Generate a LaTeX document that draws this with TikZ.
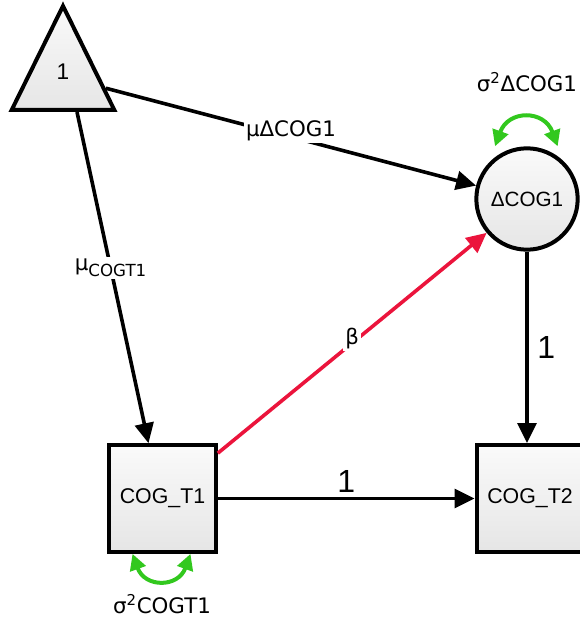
\documentclass[tikz,border=0pt]{standalone}
\usepackage{fontspec}
\setmainfont{Liberation Sans}
\newfontfamily\lblfont{DejaVu Sans}
\usetikzlibrary{arrows.meta,shapes.geometric}
\definecolor{vargreen}{RGB}{50,200,30}
\definecolor{pathred}{RGB}{235,20,60}

\begin{document}
\begin{tikzpicture}[x=0.75pt, y=-0.75pt, >={Triangle[length=15pt,width=14pt]}, line width=2.7pt]
\tikzstyle{box}=[draw=black, line width=3pt, top color=gray!4, bottom color=gray!20, minimum size=80pt, inner sep=0pt, font=\fontsize{16}{19}\selectfont]
\tikzstyle{latent}=[circle, draw=black, line width=3pt, top color=gray!4, bottom color=gray!20, minimum size=76pt, inner sep=0pt, font=\fontsize{15.5}{18}\selectfont]
\tikzstyle{const}=[isosceles triangle, isosceles triangle stretches, shape border rotate=90, draw=black, line width=3pt, top color=gray!4, bottom color=gray!20, minimum width=77pt, minimum height=78pt, inner sep=0pt, font=\fontsize{17}{20}\selectfont]
\tikzstyle{lbl}=[fill=white, inner sep=1.5pt, font=\lblfont\fontsize{16}{18}\selectfont]
\tikzstyle{num}=[font=\fontsize{24}{28}\selectfont]
\tikzstyle{var}=[{Triangle[length=12pt,width=12pt]}-{Triangle[length=12pt,width=12pt]}, draw=vargreen, line width=3pt]

\useasboundingbox (0,0) rectangle (580,620);

\node[const, anchor=lower side] (one)  at (63,112)     {\raisebox{8pt}{1}};
\node[latent]                   (dcog) at (527,199)    {ΔCOG1};
\node[box]                      (cogA) at (162.5,498.5) {COG\_T1};
\node[box]                      (cogB) at (530,498.5)  {COG\_T2};

\node[lbl, fill=none] (vdcog) at (527,82)  {σ\textsuperscript{2}ΔCOG1};
\node[lbl, fill=none] (vcogA) at (162,604) {σ\textsuperscript{2}COGT1};

% means
\draw[->] (one) -- node[lbl, pos=0.5, anchor=south, yshift=-6pt] {μΔCOG1} (dcog);
\draw[->] ([xshift=10.5pt]one.lower side) -- node[lbl, pos=0.47] {μ\raisebox{-0.5ex}{\fontsize{12.5}{14}\selectfont COGT1}} ([xshift=-10.5pt]cogA.north);

% regressions
\draw[->, draw=pathred] ([yshift=-7.5pt]cogA.north east) -- node[lbl, anchor=south, yshift=-7pt] {β} (dcog.220);
\draw[->] (cogA) -- node[num, above] {1} (cogB);
\draw[->] (dcog) -- node[num, right, xshift=3pt] {1} (dcog |- cogB.north);

% variances
\draw[var] ([xshift=-24pt]dcog.north) to[out=70, in=110, looseness=1.6] ([xshift=23pt]dcog.north);
\draw[var] ([xshift=-22.5pt]cogA.south) to[out=-70, in=-110, looseness=1.6] ([xshift=21pt]cogA.south);
\end{tikzpicture}
\end{document}
